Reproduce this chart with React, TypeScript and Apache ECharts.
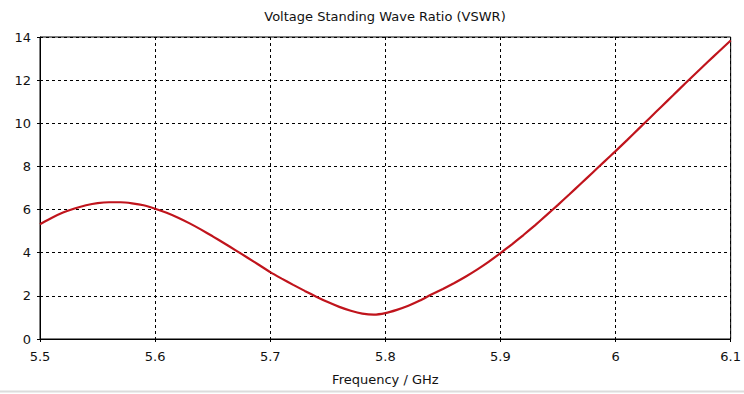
import React, { useEffect, useRef } from "react";
import * as echarts from "echarts";

const frequencies: number[] = [
  5.5, 5.51, 5.52, 5.53, 5.54, 5.55, 5.56, 5.57, 5.58, 5.59,
  5.6, 5.61, 5.62, 5.63, 5.64, 5.65, 5.66, 5.67, 5.68, 5.69,
  5.7, 5.71, 5.72, 5.73, 5.74, 5.75, 5.76, 5.77, 5.78, 5.79,
  5.8, 5.81, 5.82, 5.83, 5.84, 5.85, 5.86, 5.87, 5.88, 5.89,
  5.9, 5.91, 5.92, 5.93, 5.94, 5.95, 5.96, 5.97, 5.98, 5.99,
  6.0, 6.01, 6.02, 6.03, 6.04, 6.05, 6.06, 6.07, 6.08, 6.09, 6.1,
];

const vswr: number[] = [
  5.32, 5.61, 5.86, 6.05, 6.2, 6.3, 6.34, 6.34, 6.29, 6.2,
  6.04, 5.85, 5.62, 5.36, 5.07, 4.76, 4.44, 4.11, 3.78, 3.44,
  3.1, 2.8, 2.51, 2.23, 1.96, 1.71, 1.49, 1.31, 1.18, 1.13,
  1.2, 1.35, 1.54, 1.78, 2.06, 2.32, 2.6, 2.9, 3.23, 3.59,
  3.98, 4.39, 4.82, 5.27, 5.74, 6.22, 6.71, 7.21, 7.71, 8.21,
  8.71, 9.22, 9.74, 10.26, 10.78, 11.3, 11.82, 12.33, 12.84, 13.34, 13.84,
];

const title = "Voltage Standing Wave Ratio (VSWR)";
const xName = "Frequency / GHz";

const FONT = "DejaVu Sans";

export default function App() {
  const ref = useRef<HTMLDivElement>(null);
  useEffect(() => {
    if (!ref.current) return;
    const chart = echarts.init(ref.current, undefined, { renderer: "svg" });
    const data = frequencies.map((f, i) => [f, vswr[i]]);
    chart.setOption({
      animation: false,
      backgroundColor: "#ffffff",
      grid: { left: 40, right: 13, top: 37, bottom: 55, show: true, borderColor: "#000", borderWidth: 1 },
      graphic: [
        {
          type: "text",
          x: 385,
          y: 10,
          style: { text: title, fill: "#111", font: `13px "${FONT}"`, textAlign: "center", textVerticalAlign: "top" },
        },
        {
          type: "line",
          shape: { x1: 0, y1: 391.5, x2: 744, y2: 391.5 },
          style: { stroke: "#dcdcdc", lineWidth: 2 },
        },
      ],
      xAxis: {
        type: "value",
        min: 5.5,
        max: 6.1,
        interval: 0.1,
        name: xName,
        nameLocation: "middle",
        nameGap: 34,
        nameTextStyle: { color: "#111", fontFamily: FONT, fontSize: 13 },
        axisLine: { show: true, lineStyle: { color: "#000", width: 1 } },
        axisTick: { show: true, length: 3, lineStyle: { color: "#000" } },
        axisLabel: {
          color: "#111",
          fontFamily: FONT,
          fontSize: 13,
          margin: 11,
          formatter: (v: number) => String(Math.round(v * 10) / 10),
        },
        splitLine: { show: true, lineStyle: { color: "#000", type: [3, 3], width: 1 } },
      },
      yAxis: {
        type: "value",
        min: 0,
        max: 14,
        interval: 2,
        axisLine: { show: true, lineStyle: { color: "#000", width: 1 } },
        axisTick: { show: true, length: 3, lineStyle: { color: "#000" } },
        axisLabel: { color: "#111", fontFamily: FONT, fontSize: 13, margin: 9 },
        splitLine: { show: true, lineStyle: { color: "#000", type: [3, 3], width: 1 } },
      },
      series: [
        {
          type: "line",
          data,
          smooth: 0.15,
          showSymbol: false,
          lineStyle: { color: "#c0141c", width: 2.2 },
          itemStyle: { color: "#c0141c" },
        },
      ],
    });
    return () => chart.dispose();
  }, []);
  return (
    <div
      ref={ref}
      style={{ position: "fixed", left: 0, top: 0, width: 744, height: 394, background: "#fff" }}
    />
  );
}
